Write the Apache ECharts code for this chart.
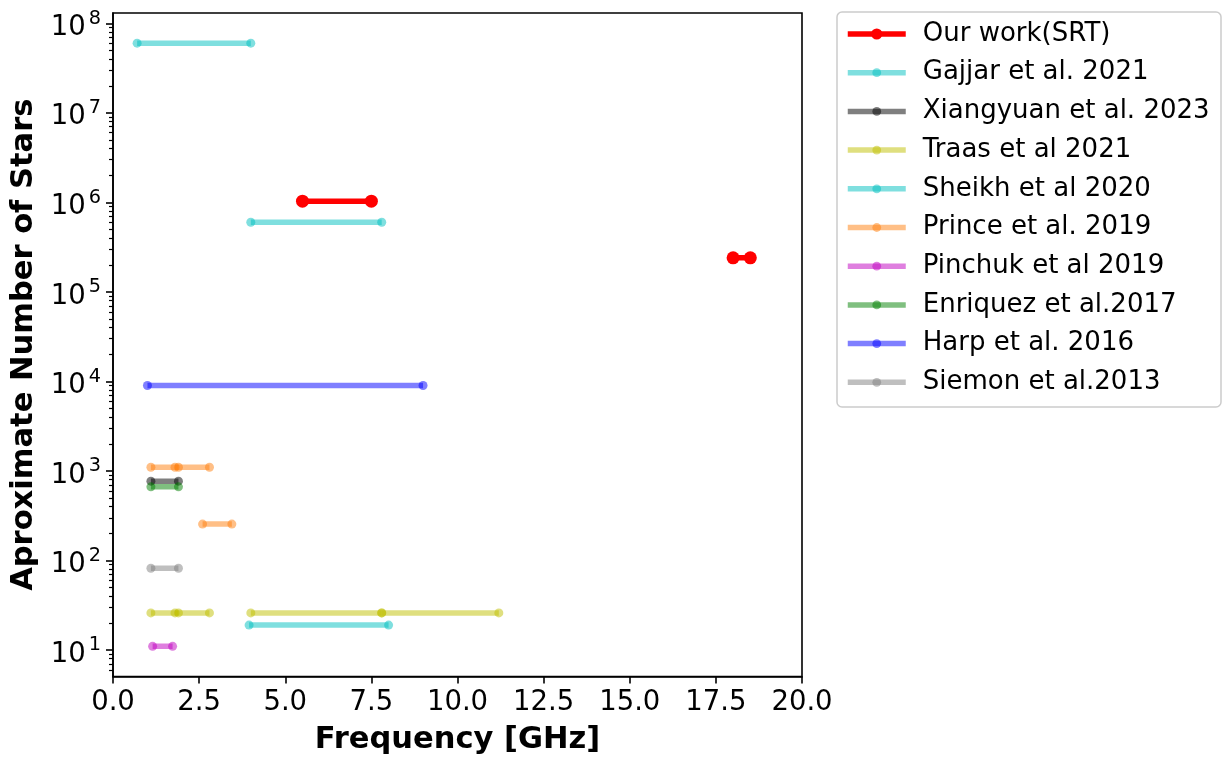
<!DOCTYPE html>
<html>
<head>
<meta charset="utf-8">
<script src="https://cdn.jsdelivr.net/npm/echarts@6/dist/echarts.min.js"></script>
<style>
  html, body { margin: 0; padding: 0; background: #ffffff; }
  #chart { width: 1228px; height: 761px; }
</style>
</head>
<body>
<div id="chart"></div>
<script>
// Surveyed frequency ranges: each segment is [start GHz, end GHz, number of stars]
const ourWork       = [[5.5, 7.5, 1.03e6], [18.0, 18.5, 2.4e5]];
const gajjar2021    = [[0.7, 4.0, 6.0e7], [4.0, 7.8, 6.0e5]];
const xiangyuan2023 = [[1.1, 1.9, 770]];
const traas2021     = [[1.1, 1.9, 26], [1.8, 2.8, 26], [4.0, 7.8, 26], [7.8, 11.2, 26]];
const sheikh2020    = [[3.95, 8.0, 19]];
const prince2019    = [[1.1, 1.9, 1100], [1.8, 2.8, 1100], [2.6, 3.45, 255]];
const pinchuk2019   = [[1.15, 1.73, 11]];
const enriquez2017  = [[1.1, 1.9, 665]];
const harp2016      = [[1.0, 9.0, 9000]];
const siemon2013    = [[1.1, 1.9, 82]];

const studyNames = [
  'Our work(SRT)', 'Gajjar et al. 2021', 'Xiangyuan et al. 2023', 'Traas et al 2021',
  'Sheikh et al 2020', 'Prince et al. 2019', 'Pinchuk et al 2019', 'Enriquez et al.2017',
  'Harp et al. 2016', 'Siemon et al.2013'
];
const studySegments = [
  ourWork, gajjar2021, xiangyuan2023, traas2021, sheikh2020,
  prince2019, pinchuk2019, enriquez2017, harp2016, siemon2013
];
const studyColors = [
  '#ff0000', '#00bfbf', '#000000', '#bfbf00', '#00bfbf',
  '#ff7f0e', '#bf00bf', '#008000', '#0000ff', '#808080'
];

// Axis ticks
const xTickValues = [0, 2.5, 5, 7.5, 10, 12.5, 15, 17.5, 20];
const yDecadeExponents = [1, 2, 3, 4, 5, 6, 7, 8];

const FONT = 'DejaVu Sans';
const TICK_FONT = 27.5;

// The star-count axis is logarithmic: values are placed by their log10
const log10 = v => Math.log10(v);
const allLogs = [];
studySegments.forEach(segs => segs.forEach(s => allLogs.push(log10(s[2]))));
const lo = Math.min(...allLogs), hi = Math.max(...allLogs);
const pad = 0.05 * (hi - lo);
const yMin = lo - pad, yMax = hi + pad;

// Minor ticks at 2..9 × 10^n inside the visible range
const yMinorTicks = [];
for (let n = 0; n <= 8; n++) {
  for (let k = 2; k <= 9; k++) {
    const v = n + Math.log10(k);
    if (v >= yMin && v <= yMax) yMinorTicks.push(v);
  }
}

const series = [];
studySegments.forEach((segs, i) => {
  const isOurs = i === 0;
  segs.forEach(seg => {
    series.push({
      type: 'line',
      name: studyNames[i],
      xAxisIndex: 0,
      yAxisIndex: 0,
      data: [[seg[0], log10(seg[2])], [seg[1], log10(seg[2])]],
      symbol: 'circle',
      symbolSize: isOurs ? 13 : 9,
      showSymbol: true,
      silent: true,
      animation: false,
      emphasis: { disabled: true },
      lineStyle: { color: studyColors[i], width: 5.5, opacity: isOurs ? 1 : 0.5, cap: 'butt' },
      itemStyle: { color: studyColors[i], opacity: isOurs ? 1 : 0.5, borderWidth: 0 }
    });
  });
});

const legendText = {
  fontFamily: FONT, fontSize: 26, color: '#000', lineHeight: 26,
  rich: { t: { fontFamily: FONT, fontSize: 26, color: '#000', lineHeight: 26, padding: [0, 0, 0, 12] } }
};

const option = {
  backgroundColor: '#ffffff',
  animation: false,
  grid: {
    left: 113, top: 13, width: 689, height: 666,
    show: true, borderColor: '#000', borderWidth: 1.6, backgroundColor: 'transparent'
  },
  graphic: [{
    type: 'rect', z: 0,
    shape: { x: 837, y: 12, width: 384, height: 395, r: 5 },
    style: { fill: 'rgba(255,255,255,0.8)', stroke: '#cccccc', lineWidth: 1.5 }
  }],
  xAxis: {
    type: 'value', min: 0, max: 20, interval: 2.5,
    name: 'Frequency [GHz]', nameLocation: 'middle', nameGap: 48.5,
    nameTextStyle: { fontFamily: FONT, fontSize: 30.5, fontWeight: 'bold', color: '#000' },
    axisLine: { show: true, lineStyle: { color: '#000', width: 1.6 } },
    axisTick: { show: true, inside: false, length: 7, lineStyle: { color: '#000', width: 1.6 } },
    axisLabel: {
      show: true, margin: 12, fontFamily: FONT, fontSize: TICK_FONT, color: '#000',
      customValues: xTickValues,
      formatter: v => v.toFixed(1)
    },
    splitLine: { show: false }
  },
  yAxis: [
    {
      type: 'value', min: yMin, max: yMax,
      name: 'Aproximate Number of Stars', nameLocation: 'middle', nameGap: 71,
      nameTextStyle: { fontFamily: FONT, fontSize: 30.5, fontWeight: 'bold', color: '#000' },
      axisLine: { show: true, lineStyle: { color: '#000', width: 1.6 } },
      axisTick: { show: true, inside: false, length: 7, customValues: yDecadeExponents,
                  lineStyle: { color: '#000', width: 1.6 } },
      axisLabel: {
        show: true, margin: 12, customValues: yDecadeExponents,
        padding: [4, 0, 0, 0],
        formatter: v => '{b|10}{s|' + String(Math.round(v)) + '}',
        rich: {
          b: { fontFamily: FONT, fontSize: TICK_FONT, color: '#000', padding: [5, 0, 0, 0] },
          s: { fontFamily: FONT, fontSize: 19.3, color: '#000', padding: [0, 0, 13.6, 3] }
        }
      },
      splitLine: { show: false }
    },
    {
      type: 'value', min: yMin, max: yMax, position: 'left',
      axisLine: { show: false },
      axisTick: { show: true, inside: false, length: 4, customValues: yMinorTicks,
                  lineStyle: { color: '#000', width: 1.2 } },
      axisLabel: { show: false },
      splitLine: { show: false }
    }
  ],
  legend: [
    {
      data: [studyNames[0]],
      orient: 'vertical', left: 845, top: 21, padding: 0,
      itemWidth: 58, itemHeight: 14, itemGap: 12.7,
      selectedMode: false,
      formatter: '{t|{name}}',
      textStyle: legendText,
      lineStyle: { width: 5.5 },
      itemStyle: { borderWidth: 0 }
    },
    {
      data: studyNames.slice(1),
      orient: 'vertical', left: 845, top: 59.7, padding: 0,
      itemWidth: 58, itemHeight: 11, itemGap: 12.7,
      selectedMode: false,
      formatter: '{t|{name}}',
      textStyle: legendText,
      lineStyle: { width: 5.5 },
      itemStyle: { borderWidth: 0 }
    }
  ],
  series: series
};

const chart = echarts.init(document.getElementById('chart'), null, { renderer: 'canvas' });
chart.setOption(option);
</script>
</body>
</html>
